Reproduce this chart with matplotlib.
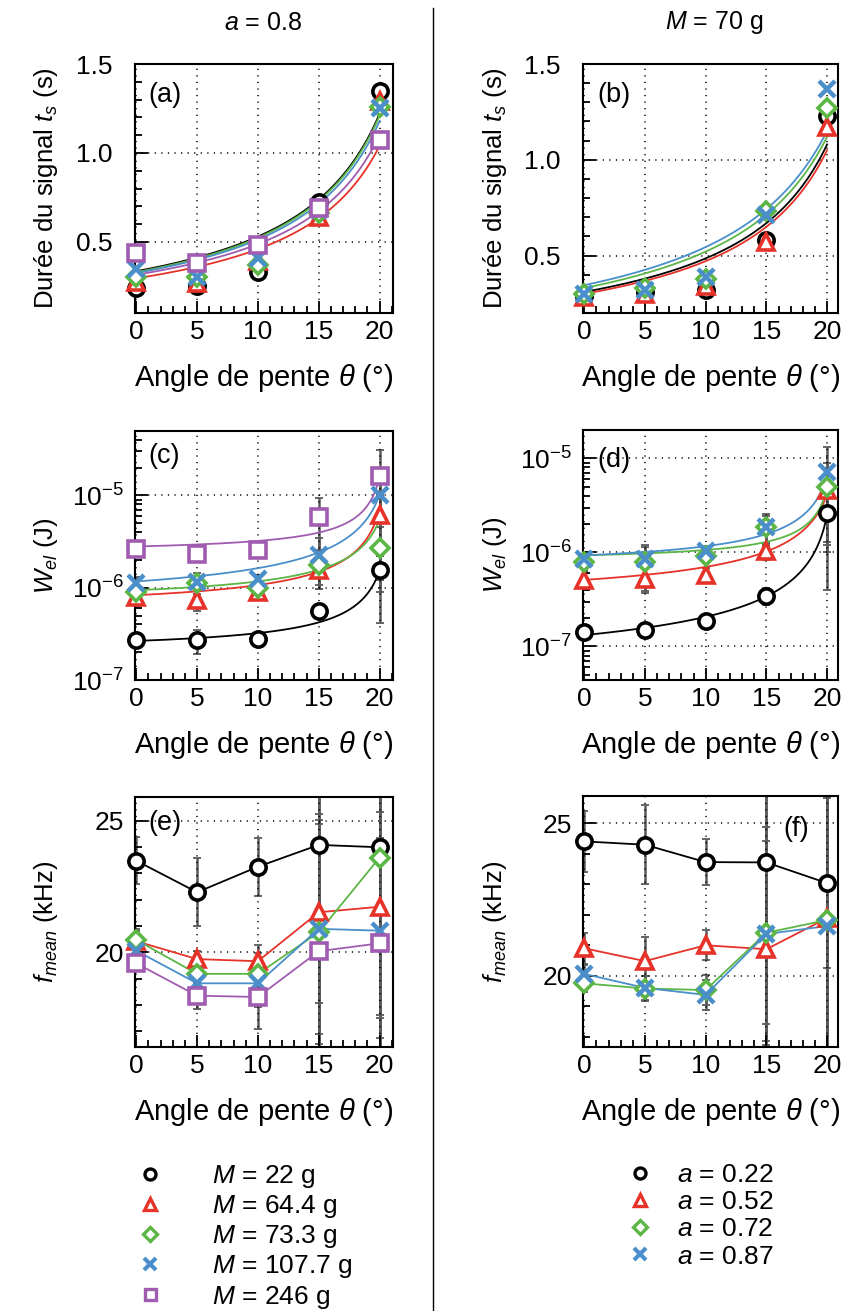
import numpy as np
import matplotlib
matplotlib.use("Agg")
import matplotlib.pyplot as plt
from matplotlib.lines import Line2D
from matplotlib.ticker import MultipleLocator, LogLocator, NullFormatter

plt.rcParams['font.family'] = ['Liberation Sans', 'DejaVu Sans']
plt.rcParams['mathtext.fontset'] = 'custom'
plt.rcParams['mathtext.rm'] = 'Liberation Sans'
plt.rcParams['mathtext.it'] = 'Liberation Sans:italic'
plt.rcParams['mathtext.bf'] = 'Liberation Sans:bold'
FS_TICK = 19
FS_XLAB = 21
FS_YLAB = 18.5
FS_LEG = 19
FS_PANEL = 19.5

theta = [0, 5, 10, 15, 20]

# left column: a = 0.8, series are masses
mass_labels = [r'$M$ = 22 g', r'$M$ = 64.4 g', r'$M$ = 73.3 g', r'$M$ = 107.7 g', r'$M$ = 246 g']
# right column: M = 70 g, series are a values
a_labels = [r'$a$ = 0.22', r'$a$ = 0.52', r'$a$ = 0.72', r'$a$ = 0.87']

# (a) signal duration (s)
ts_a = [[0.24, 0.25, 0.33, 0.725, 1.35],
        [0.275, 0.27, 0.39, 0.64, 1.29],
        [0.305, 0.305, 0.37, 0.66, 1.26],
        [0.35, 0.30, 0.41, 0.68, 1.25],
        [0.44, 0.38, 0.48, 0.69, 1.07]]
fit0_a = [0.335, 0.295, 0.33, 0.325, 0.315]
fit20_a = [1.22, 1.04, 1.21, 1.18, 1.10]
mu_a = [0.52, 0.52, 0.52, 0.52, 0.52]

# (b) signal duration (s)
ts_b = [[0.29, 0.31, 0.32, 0.58, 1.23],
        [0.285, 0.30, 0.34, 0.57, 1.17],
        [0.30, 0.33, 0.38, 0.73, 1.27],
        [0.30, 0.32, 0.39, 0.71, 1.37]]
fit0_b = [0.31, 0.30, 0.33, 0.345]
fit20_b = [1.08, 1.05, 1.12, 1.15]
mu_b = [0.53, 0.53, 0.55, 0.56]

# (c) elastic energy (J)
wel_c = [[2.7e-7, 2.7e-7, 2.75e-7, 5.6e-7, 1.57e-6],
         [7.85e-7, 7.4e-7, 9.1e-7, 1.57e-6, 6.2e-6],
         [8.9e-7, 1.12e-6, 1.0e-6, 1.78e-6, 2.7e-6],
         [1.12e-6, 1.15e-6, 1.23e-6, 2.28e-6, 1.02e-5],
         [2.63e-6, 2.33e-6, 2.58e-6, 5.9e-6, 1.62e-5]]
wel_c_err = [[3e-8, 8e-8, 3e-8, 8e-8, 1.15e-6],
             [1.5e-7, 1.8e-7, 1e-7, 6e-7, 4e-6],
             [1.5e-7, 2e-7, 1e-7, 8e-7, 1.8e-6],
             [2e-7, 3e-7, 1.5e-7, 1.2e-6, 8e-6],
             [3e-7, 4e-7, 2e-7, 3.4e-6, 1.5e-5]]
fit0_c = [2.65e-7, 8.3e-7, 9.4e-7, 1.17e-6, 2.8e-6]
fit20_c = [1.55e-6, 7.1e-6, 5.5e-6, 1.02e-5, 1.6e-5]
mu_c = [0.383, 0.38, 0.386, 0.386, 0.377]

# (d) elastic energy (J)
wel_d = [[1.41e-7, 1.49e-7, 1.86e-7, 3.46e-7, 2.6e-6],
         [5.07e-7, 5.2e-7, 5.8e-7, 1.04e-6, 4.6e-6],
         [7.9e-7, 7.9e-7, 9.2e-7, 1.85e-6, 5.0e-6],
         [8.6e-7, 8.5e-7, 1.03e-6, 1.87e-6, 7.2e-6]]
wel_d_err = [[1.5e-8, 2.5e-8, 2e-8, 7e-8, 2.2e-6],
             [1e-7, 1.5e-7, 1e-7, 2e-7, 3.3e-6],
             [1.5e-7, 4e-7, 1.5e-7, 6e-7, 4e-6],
             [1.5e-7, 3e-7, 1.5e-7, 7e-7, 6e-6]]
fit0_d = [1.32e-7, 5.1e-7, 9.3e-7, 9.3e-7]
fit20_d = [2.5e-6, 4.1e-6, 4.8e-6, 6.4e-6]
mu_d = [0.377, 0.387, 0.378, 0.382]

# (e) mean frequency (kHz)
fm_e = [[23.48, 22.28, 23.25, 24.08, 23.99],
        [20.42, 19.74, 19.66, 21.52, 21.73],
        [20.47, 19.18, 19.18, 20.76, 23.6],
        [20.06, 18.82, 18.82, 20.89, 20.82],
        [19.58, 18.35, 18.3, 20.04, 20.34]]
fm_e_err = [[0.9, 1.3, 1.1, 6.0, 6.5],
            [0.4, 0.3, 0.6, 5.0, 5.0],
            [0.4, 0.4, 0.8, 4.5, 6.0],
            [0.3, 0.5, 0.9, 4.0, 4.5],
            [0.3, 0.5, 1.2, 5.0, 4.0]]

# (f) mean frequency (kHz)
fm_f = [[24.41, 24.30, 23.73, 23.72, 23.04],
        [20.9, 20.48, 21.0, 20.87, 21.89],
        [19.75, 19.58, 19.53, 21.41, 21.83],
        [20.06, 19.6, 19.37, 21.37, 21.63]]
fm_f_err = [[1.0, 1.3, 0.75, 6.0, 2.8],
            [0.5, 0.8, 0.5, 5.5, 5.0],
            [0.3, 0.4, 0.5, 3.0, 6.0],
            [0.3, 0.4, 0.5, 3.5, 5.0]]

colors = ['black', '#e63228', '#5cb646', '#4a8fca', '#a05cb0']
markers = ['o', '^', 'D', 'x', 's']
msizes = [11, 12, 9.5, 12, 11]
ecol = '#5a5a5a'


def fit_curve(f0, f20, mu, th):
    # model of the fitted lines: f0 + k * (1/(mu - tan th) - 1/mu)
    g = 1 / (mu - np.tan(np.radians(th))) - 1 / mu
    g20 = 1 / (mu - np.tan(np.radians(20))) - 1 / mu
    return f0 + (f20 - f0) * g / g20


W, H = 850, 1311
fig = plt.figure(figsize=(W / 100, H / 100), dpi=100)


def add_ax(l, t, r, b):
    return fig.add_axes([l / W, 1 - b / H, (r - l) / W, (b - t) / H])


def style(ax, xmax, ylabel, ypad=8):
    ax.set_xlim(-0.1, xmax)
    ax.xaxis.set_major_locator(MultipleLocator(5))
    ax.xaxis.set_minor_locator(MultipleLocator(1))
    ax.tick_params(which='both', direction='in', top=False, right=False,
                   labelsize=FS_TICK, width=1.3)
    ax.tick_params(which='major', length=9, pad=5)
    ax.tick_params(axis='y', which='major', pad=ypad)
    ax.tick_params(which='minor', length=5)
    for s in ax.spines.values():
        s.set_linewidth(1.5)
    ax.grid(True, which='major', color='k', lw=1.1, ls=(0, (0.8, 3.5)))
    ax.set_axisbelow(False)
    ax.set_xlabel(r'Angle de pente $\theta$ (°)', fontsize=FS_XLAB)
    ax.xaxis.set_label_coords(0.5, -0.195)
    ax.set_ylabel(ylabel, fontsize=FS_YLAB)
    ax.yaxis.set_label_coords(-0.29, 0.5)


def points(ax, ys, errs=None, join=False):
    for i, y in enumerate(ys):
        if errs is not None:
            ax.errorbar(theta, y, yerr=errs[i], fmt='none', ecolor=ecol,
                        elinewidth=1.8, capsize=3, capthick=1.3, zorder=2)
        if join:
            ax.plot(theta, y, '-', color=colors[i], lw=1.3, zorder=3)
        ax.plot(theta, y, ls='none', marker=markers[i], ms=msizes[i], mfc='white' if markers[i] != 'x' else colors[i],
                mec=colors[i], mew=2.6 if markers[i] != 'x' else 3.2, zorder=4, clip_on=False)


def log_y(ax, lo, hi):
    ax.set_ylim(lo, hi)
    ax.yaxis.set_major_locator(LogLocator(base=10))
    ax.yaxis.set_minor_locator(LogLocator(base=10, subs=np.arange(2, 10)))
    ax.yaxis.set_minor_formatter(NullFormatter())


th_fine = np.linspace(0, 20, 300)
ts_label = r'Durée du signal $t_s$ (s)'
wel_label = r'$W_{el}$ (J)'
fm_label = r'$f_{mean}$ (kHz)'

# (a)
ax = add_ax(135, 64, 393, 313)
for i in range(5):
    ax.plot(th_fine, fit_curve(fit0_a[i], fit20_a[i], mu_a[i], th_fine), color=colors[i], lw=1.3, zorder=3)
points(ax, ts_a)
style(ax, 21.1, ts_label, ypad=16)
ax.set_ylim(0.1, 1.5)
ax.yaxis.set_major_locator(MultipleLocator(0.5))
ax.yaxis.set_minor_locator(MultipleLocator(0.1))
ax.text(0.05, 0.875, '(a)', transform=ax.transAxes, fontsize=FS_PANEL, va='center')

# (b)
ax = add_ax(583, 64, 838, 313)
for i in range(4):
    ax.plot(th_fine, fit_curve(fit0_b[i], fit20_b[i], mu_b[i], th_fine), color=colors[i], lw=1.3, zorder=3)
points(ax, ts_b)
style(ax, 20.9, ts_label, ypad=16)
ax.set_ylim(0.2, 1.5)
ax.yaxis.set_major_locator(MultipleLocator(0.5))
ax.yaxis.set_minor_locator(MultipleLocator(0.1))
ax.text(0.055, 0.875, '(b)', transform=ax.transAxes, fontsize=FS_PANEL, va='center')

# (c)
ax = add_ax(135, 431, 393, 680)
ax.set_yscale('log')
for i in range(5):
    ax.plot(th_fine, fit_curve(fit0_c[i], fit20_c[i], mu_c[i], th_fine), color=colors[i], lw=1.3, zorder=3)
points(ax, wel_c, wel_c_err)
style(ax, 21.1, wel_label)
log_y(ax, 1e-7, 5e-5)
ax.text(0.05, 0.9, '(c)', transform=ax.transAxes, fontsize=FS_PANEL, va='center')

# (d)
ax = add_ax(583, 430, 838, 680)
ax.set_yscale('log')
for i in range(4):
    ax.plot(th_fine, fit_curve(fit0_d[i], fit20_d[i], mu_d[i], th_fine), color=colors[i], lw=1.3, zorder=3)
points(ax, wel_d, wel_d_err)
style(ax, 20.9, wel_label)
log_y(ax, 4.4e-8, 2e-5)
ax.text(0.055, 0.88, '(d)', transform=ax.transAxes, fontsize=FS_PANEL, va='center')

# (e)
ax = add_ax(135, 797, 393, 1047)
points(ax, fm_e, fm_e_err, join=True)
style(ax, 21.1, fm_label)
ax.set_ylim(16.4, 25.9)
ax.yaxis.set_major_locator(MultipleLocator(5))
ax.yaxis.set_minor_locator(MultipleLocator(1))
ax.text(0.05, 0.896, '(e)', transform=ax.transAxes, fontsize=FS_PANEL, va='center')

# (f)
ax = add_ax(583, 796, 838, 1047)
points(ax, fm_f, fm_f_err, join=True)
style(ax, 20.9, fm_label)
ax.set_ylim(17.66, 25.9)
ax.yaxis.set_major_locator(MultipleLocator(5))
ax.yaxis.set_minor_locator(MultipleLocator(1))
ax.text(0.785, 0.87, '(f)', transform=ax.transAxes, fontsize=FS_PANEL, va='center')

# column titles and divider
fig.text(263 / W, 1 - 23 / H, r'$a$ = 0.8', ha='center', va='center', fontsize=18)
fig.text(714 / W, 1 - 23 / H, r'$M$ = 70 g', ha='center', va='center', fontsize=18)
fig.add_artist(Line2D([433 / W, 433 / W], [0, 1 - 8 / H], color='k', lw=1))


# legends
def handles(n):
    return [Line2D([], [], ls='none', marker=markers[i], ms=msizes[i] * 0.72,
                   mfc='white' if markers[i] != 'x' else colors[i], mec=colors[i],
                   mew=2.4 if markers[i] != 'x' else 3) for i in range(n)]


fig.legend(handles(5), mass_labels, loc='upper left', bbox_to_anchor=(124 / W, 1 - 1163 / H),
           frameon=False, fontsize=FS_LEG, handletextpad=1.35, labelspacing=0.12,
           borderaxespad=0, borderpad=0)
fig.legend(handles(4), a_labels, loc='upper left', bbox_to_anchor=(614 / W, 1 - 1163 / H),
           frameon=False, fontsize=FS_LEG, handletextpad=0.4, labelspacing=0.12,
           borderaxespad=0, borderpad=0)

fig.savefig('out.png', dpi=100)
